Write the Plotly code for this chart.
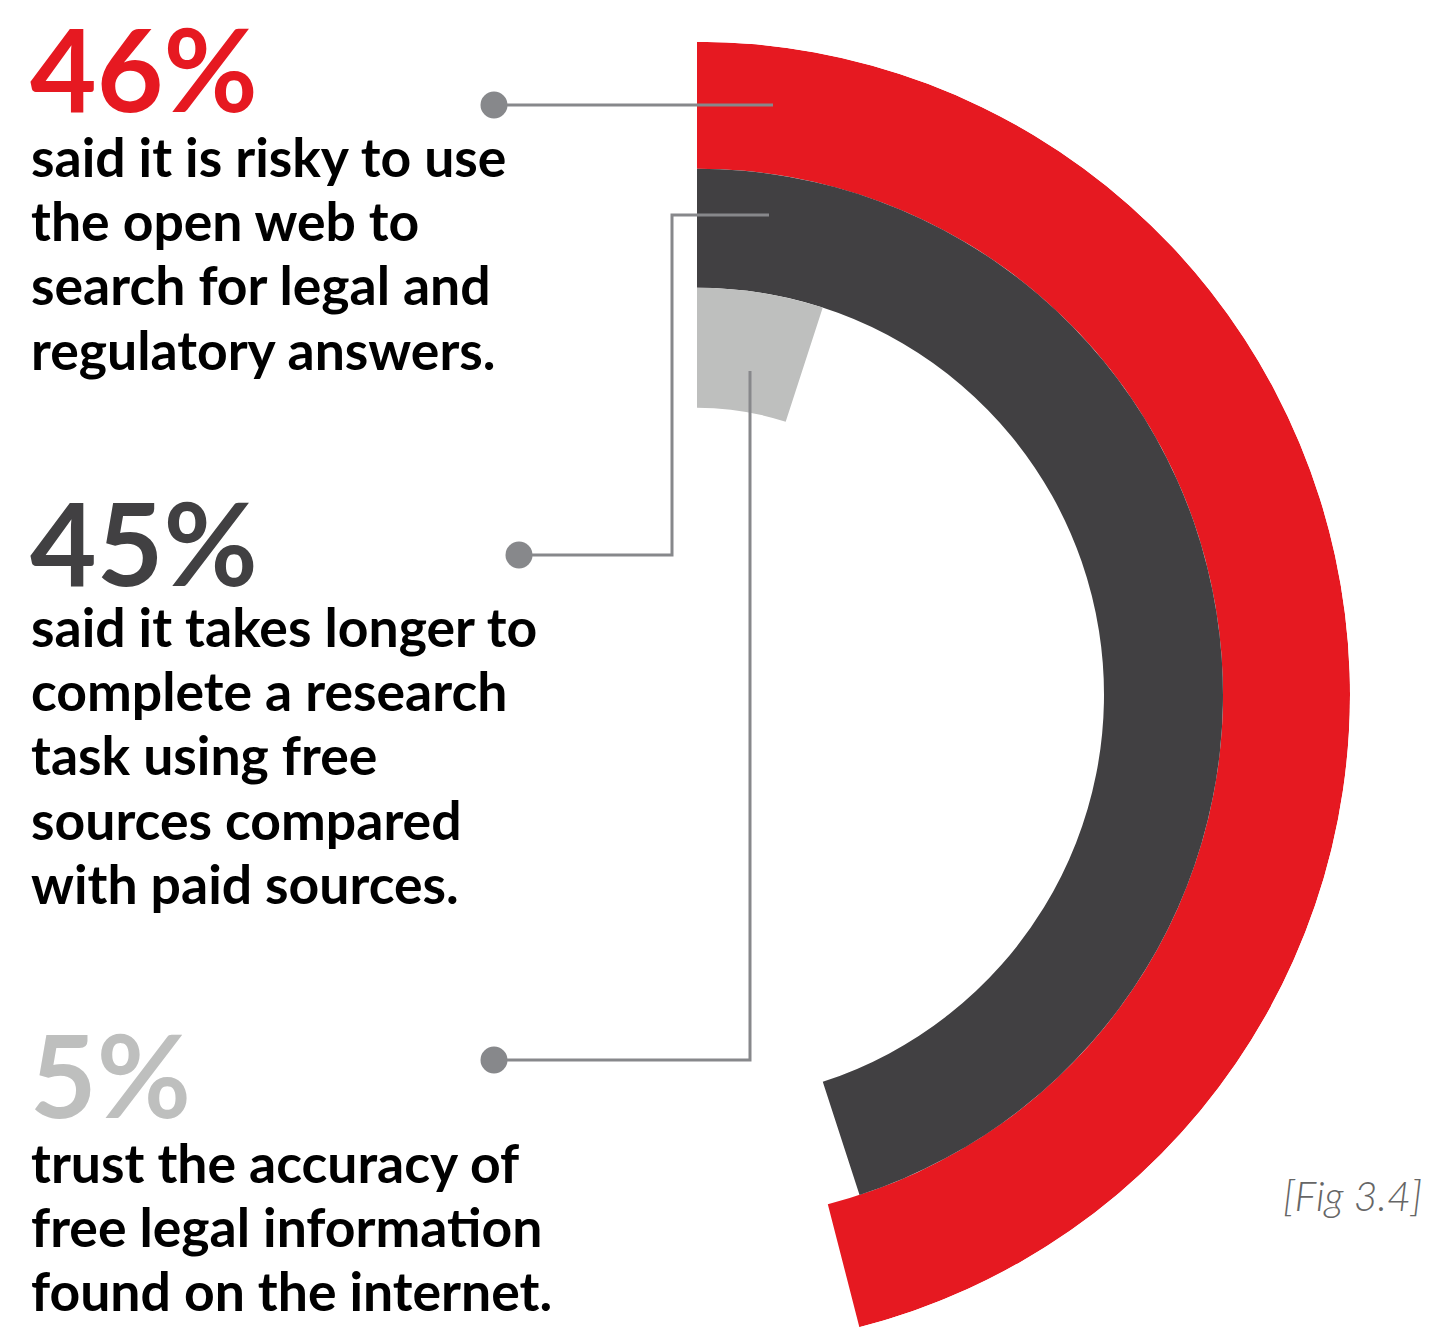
import plotly.graph_objects as go

# Survey results (share of respondents, %)
values = [46, 45, 5]
descriptions = [
    ["said it is risky to use", "the open web to", "search for legal and", "regulatory answers."],
    ["said it takes longer to", "complete a research", "task using free", "sources compared", "with paid sources."],
    ["trust the accuracy of", "free legal information", "found on the internet."],
]
ring_colors = ["#E61921", "#414042", "#BEBFBE"]
fig_label = "[Fig 3.4]"

W, H = 1450, 1333

# Ring geometry (radial units, outermost ring first)
ring_outer = [653, 526, 407]
ring_inner = [526, 407, 287]


def px(x):
    return x / W


def py(y):
    return 1 - y / H


fig = go.Figure()

for v, ro, ri, col in zip(values, ring_outer, ring_inner, ring_colors):
    fig.add_trace(go.Barpolar(
        r=[ro - ri], base=[ri],
        theta=[v * 3.6 / 2], width=[v * 3.6],
        marker=dict(color=col, line=dict(width=0)),
        hoverinfo="skip", showlegend=False,
    ))

# Text blocks: big percentage followed by description lines (baselines in px)
line_color = "#87888B"
blocks = [
    dict(num_base=111.5, first=177),
    dict(num_base=586, first=647),
    dict(num_base=1118, first=1183),
]
step = 64.1
num_size = 115
txt_size = 53.5
text_x = 29
annotations = []
for v, desc, col, b in zip(values, descriptions, ring_colors, blocks):
    annotations.append(dict(
        x=px(text_x - 1), y=py(b["num_base"] - 0.387 * num_size), xref="paper", yref="paper",
        xanchor="left", yanchor="middle", showarrow=False, text=f"{v}%",
        font=dict(family="Lato", size=num_size, color=col, weight=700),
    ))
    for i, line in enumerate(desc):
        base = b["first"] + i * step
        annotations.append(dict(
            x=px(text_x), y=py(base - 0.387 * txt_size), xref="paper", yref="paper",
            xanchor="left", yanchor="middle", showarrow=False, text=line,
            font=dict(family="Lato", size=txt_size, color="#000000", weight=700),
        ))

annotations.append(dict(
    x=px(1424), y=py(1195), xref="paper", yref="paper",
    xanchor="right", yanchor="middle", showarrow=False, text=fig_label,
    font=dict(family="Lato", size=41, color="#666666", weight=300, style="italic"),
))

# Leader lines and dots
shapes = []
paths = [
    [(494, 105), (773, 105)],
    [(519, 555), (672, 555), (672, 215), (769, 215)],
    [(494, 1060), (750, 1060), (750, 371)],
]
for pts in paths:
    d = "M " + " L ".join(f"{px(x)},{py(y)}" for x, y in pts)
    shapes.append(dict(type="path", path=d, xref="paper", yref="paper",
                       line=dict(color=line_color, width=3)))
    cx, cy = pts[0]
    r = 13.5
    shapes.append(dict(type="circle", xref="paper", yref="paper",
                       x0=px(cx - r), x1=px(cx + r), y0=py(cy + r), y1=py(cy - r),
                       fillcolor=line_color, line=dict(width=0)))

fig.update_layout(
    width=W, height=H,
    margin=dict(l=0, r=0, t=0, b=0),
    paper_bgcolor="white", plot_bgcolor="white",
    showlegend=False,
    polar=dict(
        domain=dict(x=[px(697), px(1350)], y=[py(1328.3), py(41.7)]),
        sector=[-76, 90],
        hole=0,
        bgcolor="white",
        radialaxis=dict(range=[0, 653], visible=False, showgrid=False),
        angularaxis=dict(rotation=90, direction="clockwise", visible=False, showgrid=False),
    ),
    annotations=annotations,
    shapes=shapes,
)

fig.write_html("out.html")
